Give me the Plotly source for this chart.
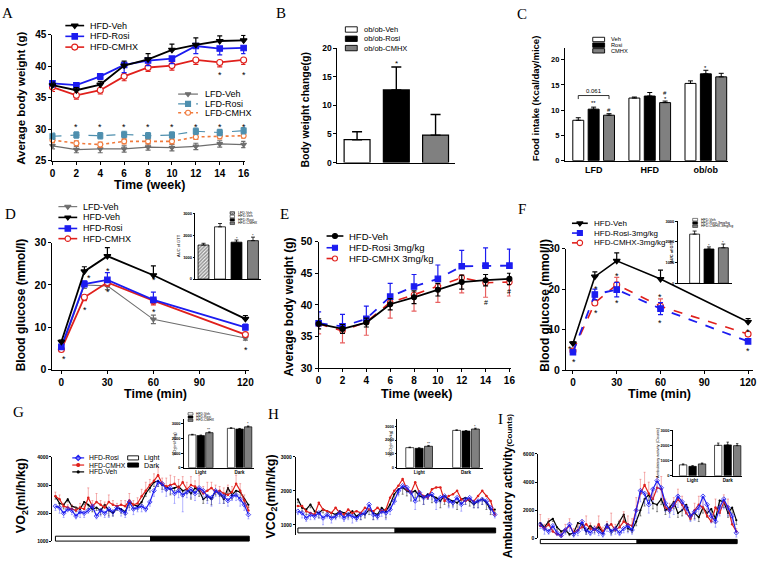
import plotly.graph_objects as go

W, H = 761, 565
SANS = "Liberation Sans, Arial, Helvetica, sans-serif"
SERIF = "Liberation Serif, Times New Roman, serif"

# ======================= DATA =======================
weeks = [0, 2, 4, 6, 8, 10, 12, 14, 16]
minutes = [0, 15, 30, 60, 120]

# A: body weight (g)
A_hfd_veh = [37.0, 36.2, 37.1, 40.1, 41.1, 42.6, 43.4, 44.0, 44.1]
A_hfd_veh_err = [0.5, 0.4, 0.5, 0.7, 0.9, 0.9, 1.1, 0.8, 0.8]
A_hfd_rosi = [37.3, 37.0, 38.4, 40.2, 40.9, 41.2, 43.2, 42.8, 42.9]
A_hfd_rosi_err = [0.6, 0.7, 0.5, 1.2, 0.8, 0.8, 1.2, 1.0, 0.9]
A_hfd_cmhx = [36.7, 35.4, 36.2, 38.4, 39.8, 40.1, 41.0, 40.6, 41.0]
A_hfd_cmhx_err = [0.7, 0.6, 0.6, 0.7, 0.6, 0.7, 0.7, 0.7, 0.7]
A_lfd_veh = [27.4, 26.8, 26.9, 26.9, 27.2, 27.1, 27.3, 27.7, 27.6]
A_lfd_veh_err = [0.5, 0.5, 0.6, 0.5, 0.5, 0.5, 0.5, 0.5, 0.5]
A_lfd_rosi = [28.9, 29.1, 29.0, 29.2, 29.0, 29.1, 29.7, 29.5, 29.8]
A_lfd_rosi_err = [0.5, 0.5, 0.5, 0.5, 0.5, 0.5, 0.5, 0.5, 0.5]
A_lfd_cmhx = [28.3, 27.8, 27.6, 28.1, 28.1, 28.1, 28.8, 28.9, 29.0]
A_lfd_cmhx_err = [0.4, 0.4, 0.4, 0.4, 0.4, 0.4, 0.4, 0.4, 0.4]
A_sig_low = [2, 4, 6, 8, 10, 12, 14, 16]      # * above LFD groups
A_sig_low_y = 30.7
A_sig_high = [14, 16]                         # * below HFD-CMHX
A_sig_high_y = 39.0

# B: ob/ob body weight change
B_groups = ["ob/ob-Veh", "ob/ob-Rosi", "ob/ob-CMHX"]
B_vals = [4.0, 12.7, 4.8]
B_err = [1.4, 4.0, 3.6]
B_colors = ["white", "black", "#808080"]

# C: food intake
C_diets = ["LFD", "HFD", "ob/ob"]
C_treat = ["Veh", "Rosi", "CMHX"]
C_veh = [8.0, 12.4, 15.3]
C_rosi = [10.2, 12.8, 17.2]
C_cmhx = [9.0, 11.5, 16.6]
C_veh_err = [0.5, 0.2, 0.5]
C_rosi_err = [0.4, 0.7, 0.7]
C_cmhx_err = [0.3, 0.3, 0.7]
C_marks = [(0, "Rosi", 11.4, "**"), (0, "CMHX", 10.0, "#"), (1, "CMHX", 13.4, "#"),
           (1, "CMHX", 12.3, "*"), (2, "Rosi", 18.4, "*")]
C_bracket = (0, "Veh", "CMHX", 12.9, "0.061")

# D: GTT
D_lfd_veh = [4.8, 20.0, 19.8, 11.9, 7.5]
D_lfd_veh_err = [0.3, 0.8, 0.9, 1.0, 0.5]
D_hfd_veh = [6.6, 23.2, 26.8, 22.3, 12.0]
D_hfd_veh_err = [0.4, 1.1, 2.0, 2.2, 0.8]
D_hfd_rosi = [5.4, 20.2, 21.2, 16.5, 10.0]
D_hfd_rosi_err = [0.3, 0.8, 1.7, 1.8, 0.8]
D_hfd_cmhx = [4.8, 17.1, 20.6, 16.3, 8.3]
D_hfd_cmhx_err = [0.3, 0.8, 0.9, 1.0, 0.5]
D_sig = [(1.5, 3.0), (18.0, 22.2), (15.5, 14.6), (30.2, 23.7), (30.2, 18.9),
         (60.5, 21.6), (60.5, 14.0), (124.5, 10.0), (120.5, 5.2)]
D_auc_groups = ["LFD-Veh", "HFD-Veh", "HFD-Rosi", "HFD-CMHX"]
D_auc = [1550, 2380, 1680, 1750]
D_auc_err = [80, 150, 100, 160]

# E: body weight, 3 mg/kg
E_veh = [37.0, 36.2, 37.2, 40.1, 41.2, 42.4, 43.6, 43.9, 44.1]
E_veh_err = [0.8, 0.7, 0.7, 0.9, 1.0, 1.0, 1.1, 0.9, 0.9]
E_rosi = [37.1, 36.6, 37.8, 41.3, 42.9, 44.1, 46.1, 46.2, 46.2]
E_rosi_err = [1.8, 1.9, 2.0, 2.1, 1.9, 2.2, 2.5, 2.8, 2.6]
E_cmhx = [37.0, 35.9, 37.3, 40.4, 41.6, 42.9, 44.3, 43.5, 43.6]
E_cmhx_err = [1.6, 1.9, 2.1, 2.5, 2.6, 2.5, 2.4, 2.3, 2.2]
E_sig_star = [(14, 50.2), (16, 50.2)]
E_sig_hash = [(14, 40.4), (16, 42.1)]

# F: GTT, 3 mg/kg
F_veh = [6.6, 23.1, 27.0, 22.5, 11.9]
F_veh_err = [0.4, 1.2, 2.0, 2.2, 0.8]
F_rosi = [4.4, 18.7, 19.9, 15.2, 7.1]
F_rosi_err = [0.3, 1.3, 1.8, 1.5, 0.4]
F_cmhx = [4.7, 16.6, 21.1, 15.8, 8.9]
F_cmhx_err = [0.3, 1.5, 1.8, 1.8, 0.5]
F_sig = [(-2.2, 5.6), (0.5, 2.6), (15.6, 20.6), (15.6, 14.5), (30.3, 23.8), (30.3, 17.1),
         (59.9, 18.6), (59.9, 12.2), (120.0, 10.0), (120.0, 5.3)]
F_auc_groups = ["HFD-Veh", "HFD-Rosi-3mg/kg", "HFD-CMHX-3mg/kg"]
F_auc = [2380, 1660, 1720]
F_auc_err = [150, 100, 180]

# G/H/I: 24 h metabolic cages (30 min bins)
time_h = [i * 0.5 for i in range(48)]
phases = [("Light", 0.0, 11.6, "white"), ("Dark", 11.6, 23.6, "black")]

G_veh = [2600, 2350, 2300, 2500, 2250, 2200, 2150, 2400, 2300, 2150, 2200, 2100,
         2300, 2100, 2000, 2200, 2150, 2050, 2400, 2300, 2250, 2400, 2700, 2900,
         3100, 3150, 3000, 2950, 2850, 2900, 2950, 2800, 2850, 2700, 2900, 2800,
         2500, 2600, 2500, 2800, 2700, 2500, 2900, 2650, 2800, 2750, 2500, 2300]
G_rosi = [2250, 2200, 2000, 2150, 2100, 1900, 2050, 2000, 2100, 2250, 1900, 2100,
          2000, 2150, 2050, 2200, 2100, 2000, 2400, 2150, 2200, 2250, 2150, 2400,
          2800, 3100, 3050, 2850, 2900, 2700, 2800, 2650, 2750, 2850, 2700, 2900,
          2800, 2600, 2550, 2800, 2700, 2600, 2450, 2600, 2650, 2500, 2300, 1950]
G_cmhx = [2600, 2500, 2250, 2200, 2150, 2100, 2200, 2150, 2550, 2250, 2400, 2300,
          2200, 2400, 2300, 2250, 2300, 2250, 2450, 2300, 2350, 2600, 2800, 3000,
          3150, 3350, 3050, 2950, 3000, 3050, 2900, 3100, 2850, 3000, 2950, 2850,
          2700, 2800, 2900, 2750, 2800, 2700, 2650, 2750, 3050, 2800, 2450, 2100]
G_rosi_err = [150, 200, 150, 100, 150, 100, 200, 150, 100, 150, 100, 200,
              150, 300, 150, 100, 200, 150, 300, 200, 150, 200, 100, 150,
              200, 150, 300, 250, 200, 350, 250, 600, 200, 300, 250, 200,
              300, 250, 300, 200, 350, 250, 200, 150, 200, 250, 200, 150]
G_cmhx_err = [150, 150, 100, 100, 150, 100, 150, 100, 350, 200, 300, 150,
              200, 250, 150, 100, 150, 200, 250, 150, 200, 250, 300, 200,
              250, 300, 200, 300, 350, 250, 300, 200, 250, 300, 200, 500,
              250, 300, 200, 250, 150, 200, 350, 200, 300, 250, 200, 150]
G_veh_err = [100, 100, 150, 100, 100, 150, 100, 100, 150, 100, 100, 150,
             100, 200, 100, 100, 150, 100, 200, 150, 100, 150, 100, 150,
             150, 200, 150, 150, 200, 100, 150, 200, 150, 200, 150, 200,
             150, 150, 200, 150, 100, 150, 200, 150, 150, 200, 150, 100]
G_inset_veh = [2250, 2700]
G_inset_rosi = [2200, 2650]
G_inset_cmhx = [2400, 2800]
G_inset_err = [40, 40]
G_inset_marks = ["**", "*"]

H_veh = [1750, 1500, 1450, 1600, 1400, 1350, 1450, 1400, 1350, 1300, 1400, 1350,
         1300, 1400, 1250, 1350, 1300, 1450, 1350, 1300, 1500, 1400, 1600, 1900,
         2050, 2100, 2000, 1950, 2000, 1850, 1800, 1900, 1850, 1800, 1700, 1850,
         1750, 1700, 1650, 1750, 1800, 1700, 1600, 1700, 1750, 1650, 1450, 1450]
H_rosi = [1400, 1350, 1200, 1300, 1250, 1350, 1200, 1300, 1200, 1250, 1350, 1200,
          1300, 1250, 1200, 1300, 1350, 1600, 1300, 1250, 1400, 1350, 1450, 1700,
          2000, 2150, 2100, 1950, 1700, 1950, 1800, 1850, 1900, 1700, 1800, 1850,
          1700, 1650, 1800, 1600, 1750, 1800, 1650, 1700, 1750, 1700, 1500, 1300]
H_cmhx = [1550, 1550, 1400, 1350, 1300, 1650, 1450, 1400, 1350, 1500, 1350, 1300,
          1450, 1350, 1400, 1350, 1500, 1450, 1400, 1500, 1400, 1450, 1800, 2000,
          2150, 2350, 2050, 1950, 2250, 1950, 1850, 1800, 2050, 2100, 2100, 1700,
          1850, 1900, 2000, 1750, 1700, 1750, 1700, 1850, 2000, 1850, 1700, 1300]
H_rosi_err = [100, 150, 100, 150, 100, 150, 200, 100, 150, 100, 150, 100,
              150, 200, 100, 150, 100, 200, 150, 100, 150, 200, 150, 100,
              150, 100, 150, 200, 250, 150, 200, 100, 150, 250, 150, 100,
              200, 150, 100, 200, 150, 100, 150, 200, 150, 100, 150, 100]
H_veh_err = [100, 100, 150, 100, 100, 150, 100, 150, 100, 100, 150, 100,
             100, 150, 100, 200, 100, 150, 200, 100, 150, 200, 150, 200,
             150, 200, 150, 250, 200, 150, 200, 150, 200, 150, 200, 250,
             200, 150, 200, 150, 200, 150, 100, 200, 150, 200, 150, 100]
H_inset_veh = [1450, 2700]
H_inset_rosi = [1400, 2650]
H_inset_cmhx = [1550, 2800]
H_inset_err = [40, 40]
H_inset_marks = ["**", "*"]

I_veh = [1100, 800, 1200, 1400, 800, 500, 600, 300, 400, 1100, 1000, 500,
         900, 600, 800, 400, 1000, 500, 700, 1200, 1700, 700, 600, 1200,
         2000, 2800, 3100, 2500, 2400, 2800, 2000, 2200, 2600, 1800, 2000, 2400,
         1600, 1800, 1500, 2200, 1800, 2100, 1400, 2700, 2600, 1800, 2200, 1300]
I_rosi = [1000, 700, 500, 900, 400, 200, 600, 1000, 300, 500, 1200, 600,
          400, 700, 500, 300, 900, 500, 700, 400, 700, 900, 600, 2000,
          3400, 3200, 2400, 3500, 4100, 3600, 2500, 2000, 2400, 3000, 2600, 2200,
          1600, 1900, 2200, 3000, 2400, 1600, 1200, 2200, 2800, 2200, 1600, 400]
I_cmhx = [900, 700, 1000, 500, 300, 200, 600, 900, 400, 600, 800, 1000,
          700, 600, 1000, 500, 800, 1000, 600, 800, 1200, 1000, 900, 2000,
          3200, 3800, 3200, 2800, 3600, 3500, 2200, 2000, 2300, 2800, 2400, 1800,
          1400, 2000, 2400, 2200, 1600, 1200, 2200, 1800, 2600, 2200, 1000, 500]
I_rosi_err = [300, 400, 200, 300, 200, 100, 300, 500, 200, 300, 600, 300,
              200, 400, 300, 200, 400, 300, 400, 200, 300, 500, 300, 600,
              800, 700, 600, 900, 800, 700, 600, 500, 700, 800, 600, 500,
              400, 600, 500, 700, 600, 500, 400, 600, 700, 600, 500, 300]
I_cmhx_err = [800, 300, 400, 300, 200, 200, 400, 500, 300, 400, 500, 600,
              400, 300, 600, 300, 400, 800, 400, 500, 700, 600, 500, 900,
              1000, 900, 800, 700, 800, 900, 600, 500, 600, 700, 600, 500,
              400, 500, 600, 700, 500, 400, 600, 500, 500, 600, 400, 200]
I_veh_err = [200, 200, 300, 200, 200, 100, 200, 100, 200, 300, 200, 200,
             300, 200, 200, 100, 300, 200, 200, 300, 400, 200, 200, 300,
             400, 500, 400, 400, 500, 400, 300, 400, 500, 300, 400, 400,
             300, 400, 300, 400, 300, 400, 300, 500, 400, 300, 400, 300]
I_inset_veh = [720, 2000]
I_inset_rosi = [620, 2030]
I_inset_cmhx = [780, 1980]
I_inset_veh_err = [60, 150]
I_inset_rosi_err = [50, 180]
I_inset_cmhx_err = [60, 130]

# ======================= STYLE =======================
BLACK = "#000000"
BLUE = "#1c1cf0"
RED = "#e0201c"
GRAY = "#6e6e6e"
TEAL = "#4e8fae"
ORANGE = "#f07a3c"
DGRAY = "#808080"
TINY = 4

fig = go.Figure()
layout_axes = {}
annotations = []
shapes = []


def tf(size, bold=True):
    return dict(family=SANS, size=size, color="black", weight="bold" if bold else "normal")


def axes(n, xpx, ypx, xr, yr, xkw=None, ykw=None, lw=1.2):
    s = "" if n == 1 else str(n)
    base = dict(showline=True, linecolor="black", linewidth=lw, ticks="outside", ticklen=3,
                tickwidth=1, tickcolor="black", showgrid=False, zeroline=False, fixedrange=True)
    xa = dict(base, domain=[xpx[0] / W, xpx[1] / W], range=xr, anchor="y" + s)
    ya = dict(base, domain=[1 - ypx[1] / H, 1 - ypx[0] / H], range=yr, anchor="x" + s)
    xa.update(xkw or {})
    ya.update(ykw or {})
    layout_axes["xaxis" + s] = xa
    layout_axes["yaxis" + s] = ya
    return "x" + s, "y" + s


def series(xa, ya, x, y, color, dash="solid", symbol="circle", msize=6, mfill=None,
           up=None, dn=None, width=1.8, ecolor=None, ethick=1.2, ewidth=2.5):
    n = len(y)
    ey = None
    if up is not None or dn is not None:
        ey = dict(type="data", symmetric=False,
                  array=up if up is not None else [0] * n,
                  arrayminus=dn if dn is not None else [0] * n,
                  color=ecolor or color, thickness=ethick, width=ewidth)
    fig.add_trace(go.Scatter(x=x, y=y, xaxis=xa, yaxis=ya, mode="lines+markers",
                             line=dict(color=color, dash=dash, width=width),
                             marker=dict(symbol=symbol, size=msize, color=mfill or color,
                                         line=dict(color=color, width=1.1)),
                             error_y=ey, cliponaxis=False, showlegend=False, hoverinfo="skip"))


def bars(xa, ya, x, y, color, err, width, pattern=None, lw=1.0, ewidth=2, ethick=1.0):
    fig.add_trace(go.Bar(x=x, y=y, xaxis=xa, yaxis=ya, width=width,
                         marker=dict(color=color, line=dict(color="black", width=lw),
                                     pattern=pattern),
                         error_y=dict(type="data", symmetric=False, array=err,
                                      arrayminus=[0] * len(err), color="black",
                                      thickness=ethick, width=ewidth),
                         showlegend=False, hoverinfo="skip"))


def note(xa, ya, x, y, s, size=9, shift=-2):
    annotations.append(dict(xref=xa, yref=ya, x=x, y=y, text=s, showarrow=False,
                            font=dict(family=SANS, size=size, color="black"), yshift=shift))


def ptext(x, y, s, size, bold=False, angle=0, family=SANS, xanchor="center", yanchor="middle"):
    annotations.append(dict(xref="paper", yref="paper", x=x / W, y=1 - y / H, text=s,
                            showarrow=False, textangle=angle, xanchor=xanchor, yanchor=yanchor,
                            font=dict(family=family, size=size, color="black",
                                      weight="bold" if bold else "normal")))


# overlay axes in pixel units for legend glyphs
layout_axes["xaxis30"] = dict(domain=[0, 1], range=[0, W], visible=False, fixedrange=True, anchor="y30")
layout_axes["yaxis30"] = dict(domain=[0, 1], range=[H, 0], visible=False, fixedrange=True, anchor="x30")


def leg_line(x0, x1, y, color, dash, symbol, msize, mfill=None, width=1.6):
    fig.add_trace(go.Scatter(x=[x0, x1], y=[y, y], xaxis="x30", yaxis="y30", mode="lines",
                             line=dict(color=color, dash=dash, width=width),
                             showlegend=False, hoverinfo="skip"))
    fig.add_trace(go.Scatter(x=[(x0 + x1) / 2], y=[y], xaxis="x30", yaxis="y30", mode="markers",
                             marker=dict(symbol=symbol, size=msize, color=mfill or color,
                                         line=dict(color=color, width=1.1)),
                             showlegend=False, hoverinfo="skip", cliponaxis=False))


def leg_box(x0, x1, yc, h, fill, lw=0.9):
    shapes.append(dict(type="rect", xref="paper", yref="paper", x0=x0 / W, x1=x1 / W,
                       y0=1 - (yc + h / 2) / H, y1=1 - (yc - h / 2) / H,
                       fillcolor=fill, line=dict(color="black", width=lw)))


def leg_pattern_box(x0, x1, yc, h):
    fig.add_trace(go.Bar(x=[(x0 + x1) / 2], y=[h], base=[yc - h / 2], width=[x1 - x0],
                         xaxis="x30", yaxis="y30",
                         marker=dict(color="white", line=dict(color="black", width=0.6),
                                     pattern=dict(shape="/", fgcolor="black", bgcolor="white",
                                                  size=1.5, solidity=0.6)),
                         showlegend=False, hoverinfo="skip"))


# ======================= PANEL A =======================
xa, ya = axes(1, (50, 245), (29.3, 158.3), [0, 16.15], [25, 45],
              dict(tickvals=weeks, tickfont=tf(10)),
              dict(tickvals=[25, 30, 35, 40, 45], tickfont=tf(10)))
series(xa, ya, weeks, A_lfd_veh, GRAY, "solid", "triangle-down", 5, up=A_lfd_veh_err, dn=A_lfd_veh_err, width=1.3)
series(xa, ya, weeks, A_lfd_cmhx, ORANGE, "dot", "circle", 5, mfill="white", dn=A_lfd_cmhx_err, up=A_lfd_cmhx_err, width=1.6)
series(xa, ya, weeks, A_lfd_rosi, TEAL, "dash", "square", 5, up=A_lfd_rosi_err, dn=A_lfd_rosi_err, width=1.1)
series(xa, ya, weeks, A_hfd_cmhx, RED, "solid", "circle", 6, mfill="white", dn=A_hfd_cmhx_err)
series(xa, ya, weeks, A_hfd_rosi, BLUE, "solid", "square", 5.5, dn=A_hfd_rosi_err)
series(xa, ya, weeks, A_hfd_veh, BLACK, "solid", "triangle-down", 6, up=A_hfd_veh_err)
for w in A_sig_low:
    note(xa, ya, w, A_sig_low_y, "*", 9)
for w in A_sig_high:
    note(xa, ya, w, A_sig_high_y, "*", 9)
ptext(18, 94, "Average body weight (g)", 11.5, True, -90)
ptext(148, 183, "Time (week)", 12.5, True)
leg_line(63, 82, 20, BLACK, "solid", "triangle-down", 6)
leg_line(63, 82, 31, BLUE, "solid", "square", 5.5)
leg_line(63, 82, 42, RED, "solid", "circle", 6, mfill="white")
for yy, s in [(20, "HFD-Veh"), (31, "HFD-Rosi"), (42, "HFD-CMHX")]:
    ptext(86, yy, s, 9, xanchor="left")
leg_line(177, 197, 90, GRAY, "solid", "triangle-down", 5, width=1.2)
leg_line(177, 197, 100, TEAL, "dash", "square", 5, width=1.1)
leg_line(177, 197, 109, ORANGE, "dot", "circle", 5, mfill="white", width=1.6)
for yy, s in [(90, "LFD-Veh"), (100, "LFD-Rosi"), (109, "LFD-CMHX")]:
    ptext(202, yy, s, 9, xanchor="left")

# ======================= PANEL B =======================
xb, yb = axes(2, (338, 457), (43, 160), [-0.5, 2.5], [0, 20],
              dict(showticklabels=False, ticks=""),
              dict(tickvals=[0, 5, 10, 15, 20], tickfont=tf(8.5)))
bars(xb, yb, list(range(len(B_groups))), B_vals, B_colors, B_err, 0.66, lw=1.2, ewidth=5, ethick=1.4)
note(xb, yb, 1, B_vals[1] + B_err[1] + 1.0, "*", 8)
ptext(305, 106, "Body weight change(g)", 10.5, True, -90)
for i, (g, c) in enumerate(zip(B_groups, B_colors)):
    yy = [24, 33.5, 43][i]
    leg_box(346, 358, yy, 5.5, c)
    ptext(363, yy, g, 7.5, xanchor="left")

# ======================= PANEL C =======================
C_off = {"Veh": -0.274, "Rosi": 0.0, "CMHX": 0.274}
C_width = 0.195
xc, yc = axes(3, (568, 733), (43, 158), [-0.51, 2.4], [0, 22.3],
              dict(tickvals=[0, 1, 2], ticktext=C_diets, ticks="", tickfont=tf(9)),
              dict(tickvals=[0, 5, 10, 15, 20], tickfont=tf(7.5)))
for tname, vals, errs, col in [("Veh", C_veh, C_veh_err, "white"), ("Rosi", C_rosi, C_rosi_err, "black"),
                               ("CMHX", C_cmhx, C_cmhx_err, DGRAY)]:
    bars(xc, yc, [i + C_off[tname] for i in range(len(C_diets))], vals, col, errs, C_width, lw=1.0, ewidth=2.5)
for gi, tname, yv, s in C_marks:
    note(xc, yc, gi + C_off[tname], yv, s, 6, 0)
gi, t0, t1, yv, s = C_bracket
shapes.append(dict(type="path", xref=xc, yref=yc,
                   path=f"M {gi + C_off[t0]},{yv - 0.7} L {gi + C_off[t0]},{yv} L {gi + C_off[t1]},{yv} L {gi + C_off[t1]},{yv - 0.7}",
                   line=dict(color="black", width=0.8)))
note(xc, yc, gi, yv + 0.9, s, 6, 0)
ptext(538, 94, "Food intake (Kcal/day/mice)", 9.5, True, -90)
for i, (t, c) in enumerate(zip(C_treat, ["white", "black", DGRAY])):
    yy = [34.2, 40, 45.8][i]
    leg_box(596, 608, yy, 4.5, c)
    ptext(612, yy, t, 5.7, xanchor="left")

# ======================= PANEL D =======================
xd, yd = axes(4, (50, 249), (241.7, 371.7), [-5.8, 122.6], [0, 30],
              dict(tickvals=[0, 30, 60, 90, 120], tickfont=tf(10)),
              dict(tickvals=[0, 10, 20, 30], tickfont=tf(10.5)))
series(xd, yd, minutes, D_lfd_veh, GRAY, "solid", "triangle-down", 5, dn=D_lfd_veh_err, up=D_lfd_veh_err, width=1.1)
series(xd, yd, minutes, D_hfd_cmhx, RED, "solid", "circle", 6, mfill="white", dn=D_hfd_cmhx_err)
series(xd, yd, minutes, D_hfd_rosi, BLUE, "solid", "square", 5.5, up=D_hfd_rosi_err)
series(xd, yd, minutes, D_hfd_veh, BLACK, "solid", "triangle-down", 6, up=D_hfd_veh_err)
for x_, y_ in D_sig:
    note(xd, yd, x_, y_, "*", 9)
ptext(18, 305, "Blood glucose (mmol/l)", 12, True, -90)
ptext(154, 396, "Time (min)", 12.5, True)
for yy, s, c, sym, mf, w in [(205, "LFD-Veh", GRAY, "triangle-down", None, 1.1),
                             (216, "HFD-Veh", BLACK, "triangle-down", None, 1.6),
                             (227.3, "HFD-Rosi", BLUE, "square", None, 1.6),
                             (237.7, "HFD-CMHX", RED, "circle", "white", 1.6)]:
    leg_line(56, 75, yy, c, "solid", sym, 5.5, mfill=mf, width=w)
    ptext(79, yy, s, 9, xanchor="left")
# D inset
xdi, ydi = axes(5, (194.3, 261), (211.7, 279), [-0.5, 3.5], [0, 3000],
                dict(showticklabels=False, ticks=""),
                dict(tickvals=[0, 1000, 2000, 3000], tickfont=tf(TINY), ticklen=1.5), lw=0.8)
fig.add_trace(go.Bar(x=[0], y=[D_auc[0]], xaxis=xdi, yaxis=ydi, width=0.66,
                     marker=dict(color="white", line=dict(color="black", width=0.8),
                                 pattern=dict(shape="/", fgcolor="#222222", bgcolor="white", size=2.5, solidity=0.6)),
                     error_y=dict(type="data", symmetric=False, array=[D_auc_err[0]], arrayminus=[0],
                                  color="black", thickness=0.8, width=2),
                     showlegend=False, hoverinfo="skip"))
bars(xdi, ydi, [1, 2, 3], D_auc[1:], ["white", "black", DGRAY], D_auc_err[1:], 0.66, lw=0.8, ethick=0.8)
for i in [2, 3]:
    note(xdi, ydi, i, D_auc[i] + D_auc_err[i] + 90, "*", TINY, 0)
ptext(178, 245, "AUC of GTT", TINY, False, -90)
leg_pattern_box(229.5, 234, 211.5, 2.6)
for yy, c in [(215, "white"), (218.5, "black"), (222, DGRAY)]:
    leg_box(229.5, 234, yy, 2.6, c, lw=0.5)
for yy, s in zip([211.5, 215, 218.5, 222], D_auc_groups):
    ptext(235.5, yy, s, 3.6, xanchor="left")

# ======================= PANEL E =======================
xe, ye = axes(6, (319, 513), (240.7, 370), [0, 16.1], [30, 50],
              dict(tickvals=weeks, tickfont=tf(10)),
              dict(tickvals=[30, 35, 40, 45, 50], tickfont=tf(10.5)))
series(xe, ye, weeks, E_cmhx, RED, "dash", "circle", 5.5, mfill="white", dn=E_cmhx_err,
       ecolor="#e86060", width=1.6)
series(xe, ye, weeks, E_rosi, BLUE, "dash", "square", 5.5, up=E_rosi_err, width=1.8)
series(xe, ye, weeks, E_veh, BLACK, "solid", "circle", 5, up=E_veh_err, dn=E_veh_err, width=1.8)
for x_, y_ in E_sig_star:
    note(xe, ye, x_, y_, "*", 9)
for x_, y_ in E_sig_hash:
    note(xe, ye, x_, y_, "#", 7, 0)
ptext(290, 307, "Average body weight (g)", 12, True, -90)
ptext(418, 396, "Time (week)", 12.5, True)
leg_line(327, 344, 235, BLACK, "solid", "circle", 5)
leg_line(327, 344, 247, BLUE, "dash", "square", 5)
leg_line(327, 344, 258, RED, "dash", "circle", 5, mfill="white")
for yy, s in [(235, "HFD-Veh"), (247, "HFD-Rosi 3mg/kg"), (258, "HFD-CMHX 3mg/kg")]:
    ptext(348, yy, s, 9.5, xanchor="left")

# ======================= PANEL F =======================
xf, yf = axes(7, (569, 758), (248, 372), [-4.75, 123.4], [0, 30],
              dict(tickvals=[0, 30, 60, 90, 120], tickfont=tf(10)),
              dict(tickvals=[0, 10, 20, 30], tickfont=tf(10.5)))
series(xf, yf, minutes, F_cmhx, RED, "dash", "circle", 6, mfill="white", up=F_cmhx_err,
       ecolor="#e86060", width=1.6)
series(xf, yf, minutes, F_rosi, BLUE, "dash", "square", 5.5, up=F_rosi_err, dn=F_rosi_err, width=1.8)
series(xf, yf, minutes, F_veh, BLACK, "solid", "triangle-down", 6, up=F_veh_err, width=1.6)
for x_, y_ in F_sig:
    note(xf, yf, x_, y_, "*", 9)
ptext(547, 306, "Blood glucose (mmol/l)", 12, True, -90)
ptext(663, 396, "Time (min)", 12.5, True)
leg_line(575, 591, 222, BLACK, "solid", "triangle-down", 5.5)
leg_line(575, 591, 232, BLUE, "dash", "square", 5)
leg_line(575, 591, 242, RED, "dash", "circle", 5.5, mfill="white")
for yy, s in [(222, "HFD-Veh"), (232, "HFD-Rosi-3mg/kg"), (242, "HFD-CMHX-3mg/kg")]:
    ptext(595, yy, s, 8.0, xanchor="left")
# F inset
xfi, yfi = axes(8, (681.7, 737), (220, 283.3), [-1.19, 2.62], [0, 3000],
                dict(showticklabels=False, ticks=""),
                dict(tickvals=[0, 1000, 2000, 3000], tickfont=tf(TINY), ticklen=1.5), lw=0.8)
bars(xfi, yfi, [0, 1, 2], F_auc, ["white", "black", DGRAY], F_auc_err, 0.69, lw=0.8, ethick=0.8)
for i in [1, 2]:
    note(xfi, yfi, i, F_auc[i] + F_auc_err[i] + 90, "*", TINY, 0)
ptext(675.5, 251, "AUC of GTT", TINY, True, -90)
for yy, c, s in zip([218.3, 221.7, 225], ["white", "black", DGRAY], F_auc_groups):
    leg_box(697, 702, yy, 2.6, c, lw=0.5)
    ptext(703.5, yy, s, 3.6, xanchor="left")


# ======================= PANELS G/H/I =======================
def phase_bar(xa, ytop, ybot):
    for _, t0, t1, col in phases:
        shapes.append(dict(type="rect", xref=xa, yref="paper", x0=t0, x1=t1,
                           y0=1 - ybot / H, y1=1 - ytop / H, fillcolor=col,
                           line=dict(color="black", width=1)))


def cage(xa, ya, veh, rosi, cmhx, veh_err, rosi_err, cmhx_err):
    n = len(time_h)
    fig.add_trace(go.Scatter(x=time_h, y=veh, xaxis=xa, yaxis=ya, mode="lines+markers",
                             line=dict(color=BLACK, width=1.2), marker=dict(size=2, color=BLACK),
                             error_y=dict(type="data", symmetric=False, array=[0] * n, arrayminus=veh_err,
                                          color="rgba(0,0,0,0.55)", thickness=0.8, width=1),
                             showlegend=False, hoverinfo="skip"))
    fig.add_trace(go.Scatter(x=time_h, y=cmhx, xaxis=xa, yaxis=ya, mode="lines+markers",
                             line=dict(color=RED, width=1.2), marker=dict(size=2.5, color=RED),
                             error_y=dict(type="data", symmetric=False, array=cmhx_err if cmhx_err else [0] * n,
                                          arrayminus=[0] * n, color="rgba(230,60,60,0.5)",
                                          thickness=0.8, width=1),
                             showlegend=False, hoverinfo="skip"))
    fig.add_trace(go.Scatter(x=time_h, y=rosi, xaxis=xa, yaxis=ya, mode="lines+markers",
                             line=dict(color=BLUE, width=1.2),
                             marker=dict(size=3.5, symbol="diamond-open", color=BLUE, line=dict(width=0.8)),
                             error_y=dict(type="data", symmetric=False, array=[0] * n, arrayminus=rosi_err,
                                          color="rgba(70,70,255,0.5)", thickness=0.8, width=1),
                             showlegend=False, hoverinfo="skip"))


def cage_inset(n, xpx, ypx, xr, yr, offs, bw, veh, rosi, cmhx, errs, marks, ytitle, tx):
    xa, ya = axes(n, xpx, ypx, xr, yr,
                  dict(tickvals=[0, 1], ticktext=["Light", "Dark"], ticks="", tickfont=tf(4.5)),
                  dict(tickvals=[0, 1000, 2000, 3000], tickfont=tf(TINY), ticklen=1.5), lw=0.8)
    for k, (vals, col) in enumerate([(veh, "white"), (rosi, "black"), (cmhx, DGRAY)]):
        bars(xa, ya, [i + offs[k] for i in range(2)], vals, col, errs[k], bw, lw=0.7, ewidth=1.2, ethick=0.7)
    if marks:
        for i, m in enumerate(marks):
            note(xa, ya, i + offs[2], cmhx[i] + errs[2][i] + 150, m, TINY, 0)
    ptext(tx, (ypx[0] + ypx[1]) / 2, ytitle, TINY, False, -90)
    return xa, ya


# ---- G ----
xg, yg = axes(9, (50, 252), (460.7, 547), [-0.36, 23.98], [1000, 4000],
              dict(visible=False), dict(tickvals=[1000, 2000, 3000, 4000], tickfont=tf(5), ticklen=2))
cage(xg, yg, G_veh, G_rosi, G_cmhx, G_veh_err, G_rosi_err, G_cmhx_err)
phase_bar(xg, 541.7, 546.7)
ptext(20, 500, "VO<sub>2</sub>(ml/h/kg)", 12.5, True, -90)
leg_line(70, 82, 461.7, BLUE, "solid", "diamond-open", 4, width=1.2)
leg_line(70, 82, 469, RED, "solid", "circle", 3, width=1.2)
leg_line(70, 82, 476, BLACK, "solid", "circle", 2, width=1.2)
for yy, s in [(461.7, "HFD-Rosi"), (469, "HFD-CMHX"), (476, "HFD-Veh")]:
    ptext(85, yy, s, 6.8, xanchor="left")
for (name, _, _, col), yy in zip(phases, [461.7, 469]):
    leg_box(126, 137, yy, 4.2, col)
    ptext(140, yy, name, 7.2, xanchor="left")
cage_inset(10, (182.7, 254), (421.7, 471.7), [-0.44, 1.38], [0, 3356], [-0.22, 0, 0.22], 0.19,
           G_inset_veh, G_inset_rosi, G_inset_cmhx, [G_inset_err, G_inset_err, [60, 60]],
           G_inset_marks, "VO<sub>2</sub>(ml/h/kg)", 174)
for yy, c, s in zip([416.7, 420, 423.3], ["white", "black", DGRAY], ["HFD-Veh", "HFD-Rosi", "HFD-CMHX"]):
    leg_box(187, 192, yy, 2.4, c, lw=0.5)
    ptext(193.5, yy, s, 3.4, xanchor="left")

# ---- H ----
xh, yh = axes(11, (296, 500), (460.7, 540), [-0.24, 23.85], [712, 3000],
              dict(visible=False), dict(tickvals=[1000, 2000, 3000], tickfont=tf(5), ticklen=2))
cage(xh, yh, H_veh, H_rosi, H_cmhx, H_veh_err, H_rosi_err, None)
phase_bar(xh, 533.3, 538.3)
ptext(272, 501, "VCO<sub>2</sub>(ml/h/kg)", 12.5, True, -90)
cage_inset(12, (398.3, 485), (422.3, 471.7), [-0.47, 1.36], [0, 3500], [-0.2, 0, 0.2], 0.17,
           H_inset_veh, H_inset_rosi, H_inset_cmhx, [H_inset_err, H_inset_err, [60, 60]],
           H_inset_marks, "VCO<sub>2</sub>(ml/h/kg)", 392)

# ---- I ----
xi, yi = axes(13, (541, 745), (457.7, 544), [-0.24, 23.96], [0, 6000],
              dict(visible=False), dict(tickvals=[0, 2000, 4000, 6000], tickfont=tf(5), ticklen=2))
cage(xi, yi, I_veh, I_rosi, I_cmhx, I_veh_err, I_rosi_err, I_cmhx_err)
phase_bar(xi, 545, 549.3)
ptext(510, 490, "Ambulatory activity<span style='font-size:8px'>(Counts)</span>", 12, True, -90)
cage_inset(14, (676.7, 747.3), (433.3, 480), [-0.57, 1.42], [0, 3000], [-0.27, 0, 0.27], 0.21,
           I_inset_veh, I_inset_rosi, I_inset_cmhx, [I_inset_veh_err, I_inset_rosi_err, I_inset_cmhx_err],
           None, "Ambulatory activity (Counts)", 662)

# ======================= PANEL LETTERS =======================
for L, x_, y_ in [("A", 5, 7), ("B", 281, 7), ("C", 525, 8), ("D", 8, 213), ("E", 284, 213),
                  ("F", 525, 207), ("G", 15.5, 415), ("H", 273, 417), ("I", 503, 422)]:
    ptext(x_, y_, L, 15, False, 0, SERIF)

fig.update_layout(width=W, height=H, margin=dict(l=0, r=0, t=0, b=0),
                  paper_bgcolor="white", plot_bgcolor="rgba(0,0,0,0)",
                  barmode="overlay", showlegend=False,
                  annotations=annotations, shapes=shapes, **layout_axes)
fig.write_html("out.html", config={"displayModeBar": False},
               post_script="document.body.style.margin='0';document.body.style.overflow='hidden';")
